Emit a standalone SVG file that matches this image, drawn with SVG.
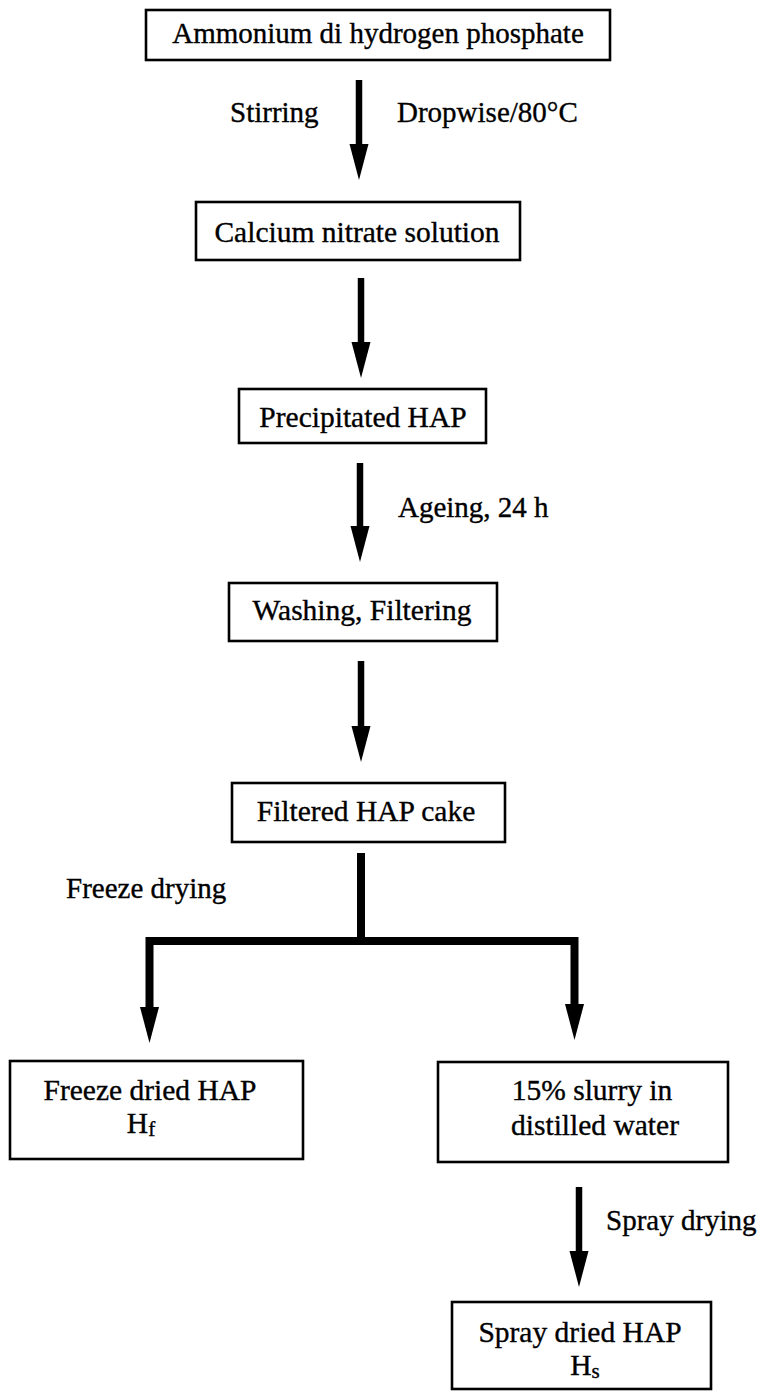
<svg xmlns="http://www.w3.org/2000/svg" width="765" height="1393" viewBox="0 0 765 1393">
<style>
.box{fill:#fff;stroke:#000;stroke-width:2.6}
.t{font-family:"Liberation Serif","Times New Roman",serif;font-size:29.5px;fill:#000;stroke:#000;stroke-width:0.35;text-anchor:middle}
.l{font-family:"Liberation Serif","Times New Roman",serif;font-size:29px;fill:#000;stroke:#000;stroke-width:0.35}
.sub{font-size:21px}
.sh{stroke:#000;stroke-width:6.5;fill:none}
.bar{stroke:#000;stroke-width:8;fill:none}
</style>
<defs>
<marker id="ah" markerUnits="userSpaceOnUse" markerWidth="40" markerHeight="24" viewBox="0 -12 40 24" refX="14" refY="0" orient="auto">
<path d="M0,-9.5 L36,0 L0,9.5 z" fill="#000"/>
</marker>
</defs>
<rect width="765" height="1393" fill="#fff"/>
<g id="connectors">
<line class="sh" x1="359" y1="80" x2="359" y2="158" marker-end="url(#ah)"/>
<line class="sh" x1="361" y1="278" x2="361" y2="356" marker-end="url(#ah)"/>
<line class="sh" x1="360" y1="463" x2="360" y2="540" marker-end="url(#ah)"/>
<line class="sh" x1="361" y1="661" x2="361" y2="740" marker-end="url(#ah)"/>
<polyline class="bar" points="361,853 361,941"/>
<polyline class="bar" points="149.5,1010 149.5,941 574.5,941 574.5,1005"/>
<line class="sh" x1="149.5" y1="1000" x2="149.5" y2="1021" marker-end="url(#ah)"/>
<line class="sh" x1="574.5" y1="1000" x2="574.5" y2="1018" marker-end="url(#ah)"/>
<line class="sh" x1="579" y1="1187" x2="579" y2="1265" marker-end="url(#ah)"/>
<text class="l" x="230" y="122">Stirring</text>
<text class="l" x="397" y="122">Dropwise/80°C</text>
<text class="l" x="398" y="517">Ageing, 24 h</text>
<text class="l" x="66" y="898">Freeze drying</text>
<text class="l" x="606" y="1230">Spray drying</text>
</g>
<g id="n1"><rect class="box" x="146" y="10" width="464" height="50"/><text class="t" x="378" y="43" style="font-size:29px">Ammonium di hydrogen phosphate</text></g>
<g id="n2"><rect class="box" x="196" y="202" width="324" height="58"/><text class="t" x="357" y="242">Calcium nitrate solution</text></g>
<g id="n3"><rect class="box" x="239" y="389" width="247" height="54"/><text class="t" x="363" y="427">Precipitated HAP</text></g>
<g id="n4"><rect class="box" x="229" y="583" width="268" height="58"/><text class="t" x="362" y="620">Washing, Filtering</text></g>
<g id="n5"><rect class="box" x="232" y="783" width="273" height="59"/><text class="t" x="366" y="821">Filtered HAP cake</text></g>
<g id="n6"><rect class="box" x="10" y="1061" width="293" height="98"/><text class="t" x="150" y="1100">Freeze dried HAP</text><text class="t" x="141" y="1133">H<tspan class="sub" dy="3">f</tspan></text></g>
<g id="n7"><rect class="box" x="438" y="1062" width="290" height="100"/><text class="t" x="592" y="1100">15% slurry in</text><text class="t" x="595" y="1135">distilled water</text></g>
<g id="n8"><rect class="box" x="452" y="1302" width="259" height="87"/><text class="t" x="580" y="1342">Spray dried HAP</text><text class="t" x="585" y="1375">H<tspan class="sub" dy="3">s</tspan></text></g>
</svg>
